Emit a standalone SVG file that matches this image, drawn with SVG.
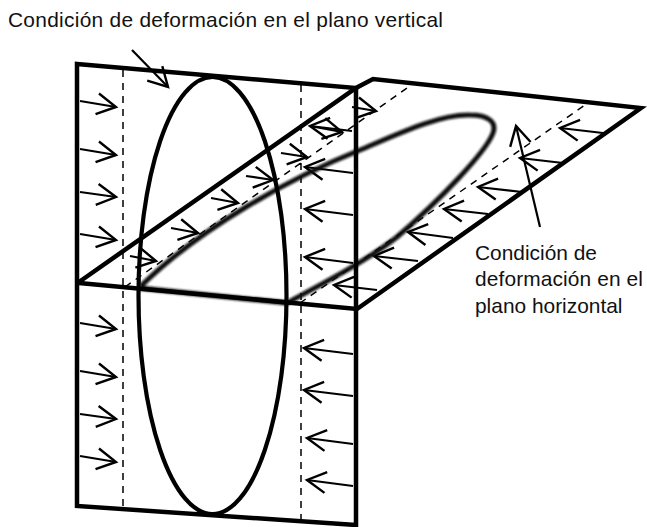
<svg xmlns="http://www.w3.org/2000/svg" width="647" height="527" viewBox="0 0 647 527">
<style>
text{font-family:"Liberation Sans",Arial,sans-serif;font-size:20.9px;fill:#111}
.b{fill:none;stroke:#000;stroke-width:4.500;stroke-linecap:butt;stroke-linejoin:miter}
.d{fill:none;stroke:#000;stroke-width:1.5;stroke-dasharray:7 6}
.a{fill:none;stroke:#000;stroke-width:2.200;marker-end:url(#h)}
</style>
<defs>
<marker id="h" markerUnits="userSpaceOnUse" markerWidth="26" markerHeight="30" refX="22" refY="15" orient="auto">
<path d="M3 4.500L22 15L3 25.500" fill="none" stroke="#000" stroke-width="2.400"/>
</marker>
<filter id="blur" x="-5%" y="-5%" width="110%" height="110%"><feGaussianBlur stdDeviation="0.8"/></filter>
</defs>
<rect width="647" height="527" fill="#fff"/>
<g id="connectors">
<path class="d" d="M123 70V507M301 85V524M125 287L407 88M300 303L585 105"/>
<path class="a" d="M80 101L116 107"/><path class="a" d="M80 149L116 155"/><path class="a" d="M80 192L116 197"/><path class="a" d="M80 234L116 240"/>
<path class="a" d="M80 323L116 329"/><path class="a" d="M80 371L116 377"/><path class="a" d="M80 414L116 419"/><path class="a" d="M80 456L116 462"/>
<path class="a" d="M353 173L305 167"/><path class="a" d="M353 215L305 209"/><path class="a" d="M353 263L305 257"/><path class="a" d="M353 354L304 348"/>
<path class="a" d="M353 396L304 390"/><path class="a" d="M353 444L307 438"/><path class="a" d="M353 486L307 480"/>
<path class="a" d="M130 256L156 261"/><path class="a" d="M171 228L198 233"/><path class="a" d="M211 198L238 203"/><path class="a" d="M246 176L273 180"/>
<path class="a" d="M281 153L307 157"/><path class="a" d="M310 126L342 132"/><path class="a" d="M352 107L376 111"/><path class="a" d="M352 131L310 126"/>
<path class="a" d="M603 133L560 128"/><path class="a" d="M563 163L520 158"/><path class="a" d="M522 192L478 187"/><path class="a" d="M488 214L444 209"/>
<path class="a" d="M453 238L408 232"/><path class="a" d="M418 261L374 256"/><path class="a" d="M377 290L334 285"/>
<path class="a" d="M132 50L168 87"/><path class="a" d="M540 227L516 126"/>
</g>
<g id="deformed-ellipse" filter="url(#blur)">
<path d="M141 286C200 228 290 178 360 150C400 133 440 114 470 115C488 115 497 122 493 133C486 152 440 200 397 237C365 262 320 285 287 303L140 288" fill="none" stroke="#111" stroke-width="5" stroke-linejoin="round"/>
</g>
<g id="vertical-plane">
<path class="b" d="M77 64L356 88V525L77 506Z"/>
</g>
<g id="horizontal-plane">
<path class="b" d="M79 282L356 88L373 79L641 108L357 309L79 283"/>
</g>
<g id="ellipse">
<ellipse cx="212.500" cy="295.500" rx="74" ry="218.500" fill="none" stroke="#000" stroke-width="4.200"/>
</g>
<g id="label-vertical"><text x="8" y="27" textLength="435">Condición de deformación en el plano vertical</text></g>
<g id="label-horizontal">
<text x="475" y="260">Condición de</text>
<text x="475" y="286" textLength="168">deformación en el</text>
<text x="475" y="313">plano horizontal</text>
</g>
</svg>
